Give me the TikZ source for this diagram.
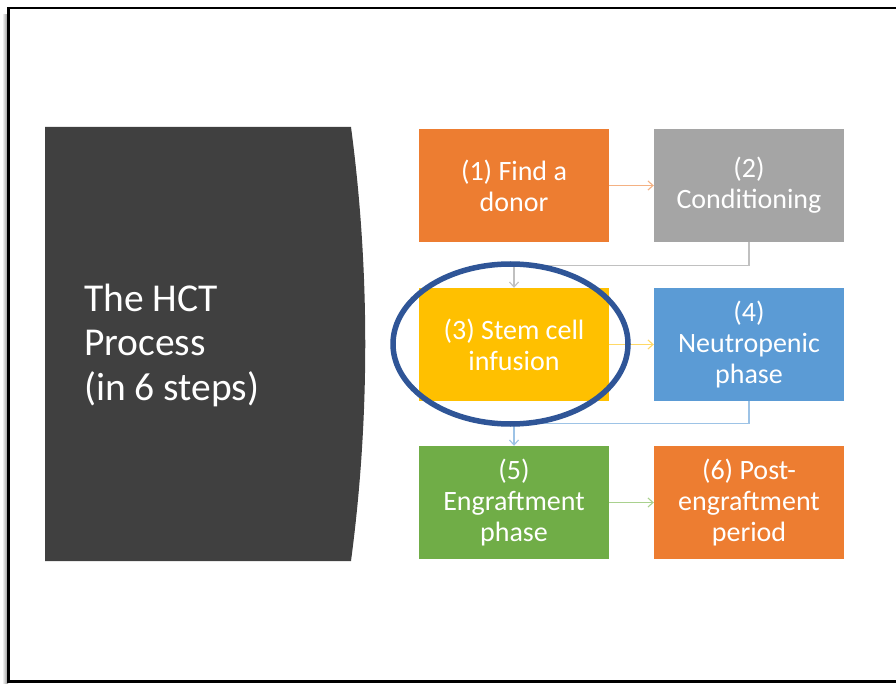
\documentclass[tikz,border=0pt]{standalone}
\usepackage{fontspec}
\setmainfont{Carlito}
\usetikzlibrary{arrows.meta}
\definecolor{dark}{HTML}{404040}
\definecolor{c1}{HTML}{ED7D31}
\definecolor{c2}{HTML}{A5A5A5}
\definecolor{c3}{HTML}{FFC000}
\definecolor{c4}{HTML}{5B9BD5}
\definecolor{c5}{HTML}{70AD47}
\definecolor{ring}{HTML}{2F5597}
\definecolor{l1}{HTML}{F4B183}
\definecolor{l2}{HTML}{C0C0C0}
\definecolor{l3}{HTML}{FFD966}
\definecolor{l4}{HTML}{9DC3E6}
\definecolor{l5}{HTML}{A9D18E}
\tikzset{
  stepbox/.style={minimum width=190pt, minimum height=113pt, inner sep=0pt, text=white, align=center,
    font=\fontsize{28pt}{31pt}\selectfont},
  conn/.style={line width=1.1pt, -{Straight Barb[length=5pt,width=9pt]}},
}
\begin{document}
\begin{tikzpicture}[x=1pt,y=-1pt]
\useasboundingbox (0,0) rectangle (896,684);
\fill[white] (0,0) rectangle (896,684);
% shadow
\shade[left color=white, right color=black!45] (2,15) rectangle (8,684);
\fill[white] (8,8) rectangle (896,681);
\draw[line width=2.5pt] (896,8) -- (8.5,8) -- (8.5,681.5) -- (896,681.5);
\draw[line width=3pt] (8.5,681.5) -- (896,681.5);
% title shape
\fill[dark] (45,127) -- (351,127) .. controls (370,270) and (370,418) .. (351,561) -- (45,561) -- cycle;
\node[anchor=base west, inner sep=0pt, text=white, align=left, font=\fontsize{39.5pt}{44.5pt}\selectfont] (title) at (84,400) {The HCT\\Process\\(in 6 steps)};
% boxes
\node[stepbox, fill=c1] (s1) at (514,185.5) {(1) Find a\\donor};
\node[stepbox, fill=c2] (s2) at (749,185.5) {(2)\\Conditioning};
\node[stepbox, fill=c3] (s3) at (514,344.5) {(3) Stem cell\\infusion};
\node[stepbox, fill=c4] (s4) at (749,344.5) {(4)\\Neutropenic\\phase};
\node[stepbox, fill=c5] (s5) at (514,502.5) {(5)\\Engraftment\\phase};
\node[stepbox, fill=c1] (s6) at (749,502.5) {(6) Post-\\engraftment\\period};
% connectors
\draw[conn, l1] (s1.east) -- (s2.west);
\draw[conn, l2] (s2.south) -- ++(0,23) -| (s3.north);
\draw[conn, l3] (s3.east) -- (s4.west);
\draw[conn, l4] (s4.south) -- ++(0,22) -| (s5.north);
\draw[conn, l5] (s5.east) -- (s6.west);
% highlight ring
\draw[ring, line width=5.5pt] (510.5,344) ellipse [x radius=117.5, y radius=80];
\end{tikzpicture}
\end{document}
